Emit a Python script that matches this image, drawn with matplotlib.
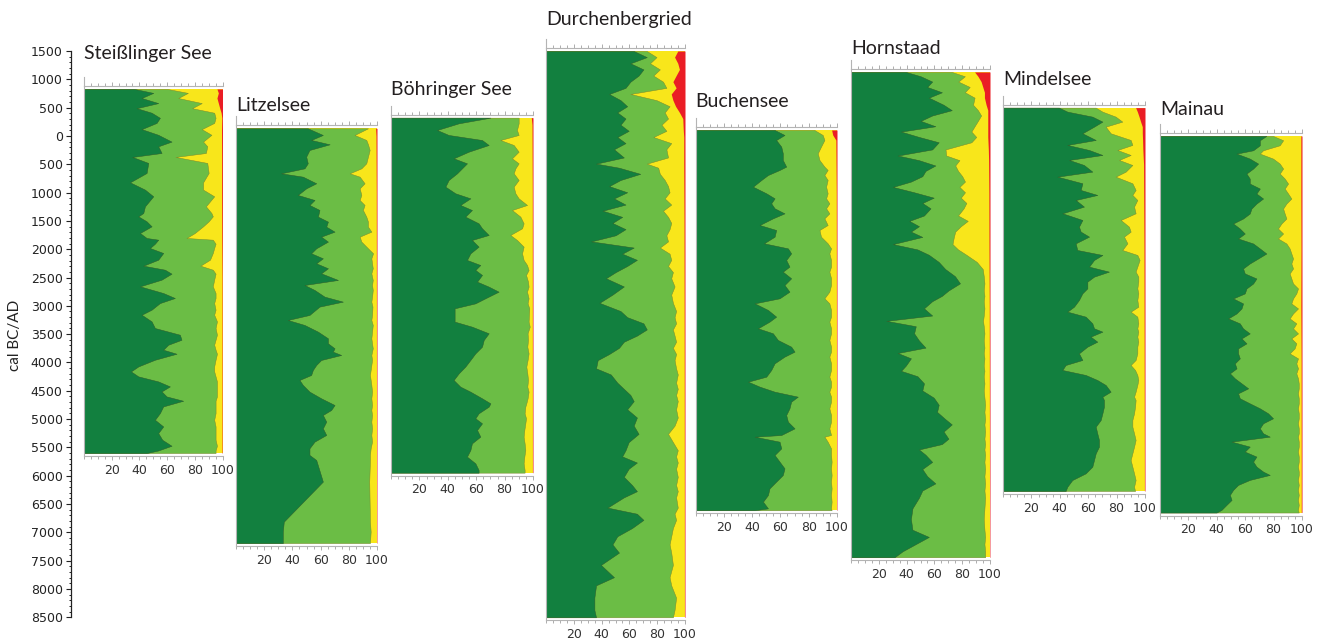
import numpy as np
import matplotlib
matplotlib.use('Agg')
import matplotlib.pyplot as plt

#--------------------------------------------------------------------
# pollen sums per site, cumulative percent
# ages in cal years: AD positive, BC negative
# dg = right edge of dark green, lg = right edge of light green,
# yellow fills up to the red band (red_x .. 100)

steiss_age = [830, 760, 670, 580, 490, 410, 320, 230, 120, 20,
              -100, -183, -301, -371, -477, -654, -819, -948, -1066, -1243,
              -1361, -1420, -1508, -1596, -1714, -1802, -1832, -1903, -1979, -2067,
              -2185, -2291, -2362, -2432, -2538, -2656, -2774, -2862, -2951, -3068,
              -3157, -3275, -3392, -3510, -3599, -3687, -3775, -3846, -3952, -4070,
              -4158, -4246, -4335, -4423, -4511, -4600, -4676, -4776, -4894, -5012,
              -5130, -5247, -5365, -5471, -5554, -5600]
steiss_dg = [36.3, 50, 41.6, 53.6, 38, 48.8, 54.8, 52.4, 41.6, 53.6,
             63.2, 53.6, 56, 34.9, 46.4, 45.2, 33.2, 44, 50, 44,
             42.8, 39.2, 45.2, 48.8, 40.4, 45.2, 53.6, 51.2, 47.6, 57.2,
             53.6, 42.8, 58.4, 63.2, 56, 40.4, 57.2, 65.6, 54.8, 48.8,
             41.6, 48.8, 51.2, 69.2, 70.4, 60.8, 57.2, 66.8, 51.2, 39.2,
             33.9, 39.2, 53.6, 62, 56, 59.6, 71.6, 57.2, 54.8, 51.2,
             57.2, 53.6, 56.5, 63.2, 53.6, 45.2]
steiss_lg = [60, 75, 68, 85, 78, 94, 95, 94, 85, 92,
             86, 89, 88, 66, 89, 90, 86, 86, 94, 88,
             92, 93, 90, 86, 80, 74, 93, 95, 94, 93,
             91, 84, 93, 95, 94, 93, 95, 95, 94, 95,
             94, 96, 95, 96, 95, 94, 95, 96, 95, 94,
             94, 95, 96, 96, 96, 96, 95, 95, 95, 94,
             95, 95, 95, 96, 95, 95]
steiss_red_age = [830, 760, 670, 580, 490, 410, 320, 100, -400, -1000, -1800, -2500, -5600]
steiss_red_x = [96, 97, 96, 97, 98, 99, 99.5, 99.3, 99.4, 99.4, 99.5, 99.7, 99.7]

litzel_age = [135, 17, -71, -148, -248, -365, -483, -572, -660, -719,
              -836, -925, -1042, -1131, -1219, -1307, -1425, -1513, -1602, -1690,
              -1778, -1866, -1984, -2072, -2161, -2249, -2337, -2426, -2543, -2632,
              -2720, -2838, -2926, -3014, -3161, -3250, -3338, -3456, -3573, -3662,
              -3750, -3809, -3868, -3956, -4044, -4133, -4221, -4309, -4397, -4515,
              -4633, -4751, -4839, -4927, -5045, -5163, -5280, -5398, -5516, -5633,
              -5722, -6104, -6811, -6987, -7190]
litzel_dg = [50.9, 61.6, 53.3, 66.4, 52.1, 49.8, 50.9, 48.6, 32, 47.4,
             56.9, 49.8, 43.8, 55.7, 52.1, 59.2, 58.1, 65.2, 64, 69.9,
             60.4, 65.2, 56.9, 53.3, 61.6, 56.9, 65.2, 60.4, 72.3, 48.6,
             55.7, 62.8, 75.8, 59.2, 52.1, 36.7, 48.6, 58.1, 65.2, 65.2,
             69.9, 68.7, 74.6, 60.4, 56.9, 54.5, 53.3, 45, 47.4, 52.1,
             60.4, 69.9, 67.5, 61.6, 64, 61.6, 64, 55.7, 52.1, 52.1,
             56.9, 61.6, 33.9, 33.2, 33.2]
litzel_lg = [93.6, 84.1, 92.4, 93.6, 94.8, 93.6, 92.4, 88.9, 80.6, 87.7,
             91.2, 87.7, 88.9, 87.7, 91.2, 90, 92.4, 93.6, 93.6, 96,
             87.7, 88.9, 93.6, 97.2, 96, 96.5, 97, 96, 97, 96.5,
             97, 96.5, 96, 96.8, 96.5, 96, 97, 96.5, 96, 96.5,
             97, 96.5, 96, 96.5, 96, 95.5, 95, 95.5, 96, 96.5,
             96, 96.5, 96, 96.5, 96, 96.5, 96, 96.5, 95.5, 95,
             95, 94.5, 95, 95.5, 95]
litzel_red_age = [135, 0, -1000, -3000, -7190]
litzel_red_x = [99, 99.3, 99.5, 99.6, 99.7]

boehr_age = [323, 223, 105, 17, -72, -160, -278, -395, -484, -572,
             -660, -778, -896, -1013, -1102, -1219, -1308, -1425, -1543, -1631,
             -1749, -1837, -1955, -2073, -2190, -2279, -2367, -2455, -2573, -2661,
             -2750, -2867, -2956, -3044, -3279, -3368, -3485, -3603, -3721, -3839,
             -3956, -4074, -4192, -4310, -4427, -4516, -4633, -4722, -4780, -4898,
             -4986, -5075, -5192, -5310, -5428, -5546, -5663, -5781, -5899, -5946]
boehr_dg = [70, 47.7, 32.4, 40.6, 64.1, 68.8, 54.7, 44.1, 53.5, 50,
            46.5, 40.6, 38.3, 45.3, 55.9, 48.8, 57, 52.3, 61.7, 64.1,
            68.8, 57, 61.7, 55.9, 53.5, 62.9, 59.4, 64.1, 60.6, 68.8,
            75.8, 66.4, 59.4, 44.8, 44.8, 57, 68.8, 65.3, 64.1, 59.4,
            55.9, 52.3, 47.7, 44.1, 48.8, 55.9, 64.1, 70, 68.8, 61.7,
            59.4, 64.1, 60.6, 62.9, 57, 55.9, 53.5, 59.4, 61.7, 61.7]
boehr_lg = [89.9, 89.9, 88.7, 89.9, 77, 86.4, 89.9, 85.2, 89.9, 87.6,
            86.4, 89.9, 86.4, 87.6, 89.9, 95.8, 85.2, 91.1, 93.4, 92.3,
            84, 88.7, 93.4, 92.3, 93.4, 95.8, 96.9, 95.1, 96.5, 96.9,
            95.8, 96.9, 96.2, 97.4, 96.9, 97.7, 96.2, 96.5, 96, 96.9,
            96.2, 95.3, 96, 96.5, 96, 96.9, 96.2, 95.3, 94.6, 94.1,
            95.1, 94.6, 93.9, 93.4, 94.1, 94.6, 93.9, 93.4, 94.1, 94.1]
boehr_red_age = [323, 200, -1000, -5946]
boehr_red_x = [98.8, 99.3, 99.5, 99.6]

durch_age = [1500, 1392, 1283, 1175, 1066, 958, 849, 741, 632, 524,
             415, 307, 198, 90, -19, -127, -235, -380, -489, -561,
             -669, -778, -886, -995, -1103, -1212, -1320, -1429, -1537, -1646,
             -1754, -1862, -1971, -2079, -2188, -2296, -2405, -2513, -2658, -2802,
             -2947, -3092, -3200, -3309, -3417, -3526, -3634, -3742, -3851, -3959,
             -4104, -4212, -4357, -4466, -4574, -4683, -4827, -4972, -5116, -5261,
             -5406, -5550, -5659, -5767, -5876, -6020, -6165, -6273, -6382, -6563,
             -6671, -6780, -6924, -7069, -7213, -7358, -7575, -7792, -7936, -8153,
             -8370, -8500]
durch_dg = [63.1, 72.5, 60.7, 70.1, 66.6, 60.7, 57.2, 45.4, 53.6, 58.4,
            51.3, 57.2, 53.6, 59.5, 51.3, 57.2, 48.9, 56, 36, 52.5,
            67.8, 53.6, 45.4, 58.4, 48.9, 57.2, 40.7, 54.8, 47.8, 57.2,
            50.1, 32.5, 63.1, 54.8, 65.4, 58.4, 50.1, 43.1, 56, 47.8,
            38.4, 53.6, 58.4, 70.1, 72.5, 65.4, 56, 52.5, 45.4, 37.2,
            36, 46.6, 51.3, 56, 60.7, 63.1, 58.4, 65.4, 63.1, 66.6,
            59.5, 57.2, 54.8, 65.4, 59.5, 56, 61.9, 65.4, 56, 44.2,
            65.4, 70.1, 61.9, 51.3, 47.8, 52.5, 39.5, 48.9, 36, 34.8,
            34.8, 36]
durch_lg = [72.5, 79.5, 74.8, 81.9, 77.2, 84.2, 86.6, 60.7, 79.5, 88.9,
            85.4, 87.8, 83.1, 86.6, 77.2, 90.1, 86.6, 87.8, 72.5, 80.7,
            81.9, 85.4, 87.8, 88.9, 85.4, 90.1, 84.2, 87.8, 90.1, 88.9,
            86.6, 87.8, 81.9, 88.9, 90.1, 87.8, 91.3, 90.1, 92.5, 90.1,
            91.3, 93.6, 92.5, 93.6, 91.3, 92.5, 93.6, 91.3, 93.6, 92.5,
            93.6, 94.8, 93.6, 94.8, 93.6, 94.8, 93.6, 94.8, 92.5, 87.8,
            91.3, 94.8, 93.6, 94.8, 93.6, 94.8, 93.6, 94.8, 93.6, 94.8,
            92.5, 93.6, 91.3, 90.1, 88.9, 90.1, 91.3, 88.9, 90.1, 93.6,
            92.5, 91.3]
durch_red_age = [1500, 1392, 1283, 1175, 1066, 958, 849, 741, 632, 524,
                 415, 307, 198, 90, -19, -489, -1500, -3000, -5000, -8500]
durch_red_x = [94.8, 92.5, 94.8, 96, 93.6, 91.3, 93.6, 90.1, 91.3, 93.2,
               96, 98.4, 98.6, 98.8, 99.1, 99.1, 99.3, 99.4, 99.5, 99.6]

buchen_age = [105, 17, -72, -189, -307, -425, -542, -601, -690, -778,
              -896, -1013, -1102, -1190, -1278, -1367, -1455, -1573, -1661, -1779,
              -1896, -1985, -2073, -2191, -2308, -2397, -2514, -2632, -2750, -2867,
              -2956, -3073, -3191, -3279, -3397, -3485, -3603, -3721, -3809, -3897,
              -4015, -4133, -4251, -4339, -4427, -4516, -4604, -4692, -4810, -4928,
              -5046, -5164, -5281, -5311, -5399, -5517, -5634, -5752, -5870, -5988,
              -6105, -6223, -6341, -6458, -6576, -6610]
buchen_dg = [55.9, 62.9, 57, 60.6, 61.7, 61.7, 64.1, 59.4, 51.2, 46.5,
             40.6, 50, 55.9, 53.5, 55.9, 62.9, 54.7, 45.3, 57, 55.9,
             48.4, 65.3, 67.6, 64.1, 66.4, 61.7, 67.6, 62.9, 66.4, 59.4,
             41.8, 51.2, 57, 52.3, 44.1, 54.7, 58.2, 67.6, 70, 62.9,
             55.9, 53.5, 50, 37.1, 45.3, 55.9, 72.3, 67.6, 66.4, 64.1,
             65.3, 70, 60.6, 41.8, 59.4, 60.6, 55.9, 59.4, 62.9, 61.7,
             57, 52.3, 51.2, 47.7, 51.2, 41.8]
buchen_lg = [84, 89.9, 91.1, 88.7, 86.4, 87.6, 91.1, 93.4, 91.1, 93.4,
             92.3, 93.4, 92.3, 94.6, 92.3, 94.6, 91.1, 93.4, 87.6, 88.7,
             93.4, 95.8, 94.6, 95.8, 95.8, 94.6, 95.8, 95.8, 94.6, 91.1,
             94.6, 95.8, 95.8, 94.6, 95.8, 95.8, 94.6, 95.8, 95.8, 94.6,
             95.8, 95.8, 94.6, 95.8, 95.8, 94.6, 95.8, 95.8, 94.6, 95.8,
             95.8, 94.6, 95.8, 91.1, 93.4, 95.8, 95.8, 96.2, 95.8, 96.2,
             95.8, 96.2, 95.8, 96.2, 95.8, 96.2]
buchen_red_age = [105, 17, -72, -1000, -3000, -6610]
buchen_red_x = [96.2, 97, 99.2, 99.5, 99.6, 99.7]

horn_age = [1130, 1054, 960, 865, 771, 676, 550, 455, 361, 266,
            171, 77, -18, -112, -238, -346, -428, -522, -617, -711,
            -806, -900, -995, -1090, -1184, -1279, -1405, -1500, -1594, -1689,
            -1783, -1910, -2004, -2099, -2225, -2351, -2477, -2603, -2729, -2824,
            -2918, -3044, -3171, -3265, -3360, -3486, -3612, -3738, -3833, -3927,
            -4054, -4148, -4243, -4369, -4495, -4621, -4747, -4873, -5000, -5094,
            -5220, -5346, -5441, -5536, -5630, -5756, -5882, -6008, -6135, -6261,
            -6387, -6576, -6765, -6954, -7081, -7207, -7333, -7440]
horn_dg = [39.5, 50.1, 58.4, 54.8, 65.4, 56, 66.6, 72.5, 58.4, 50.1,
           60.7, 36, 48.9, 63.1, 58.4, 33.6, 48.9, 60.7, 53.6, 51.3,
           43.1, 30.1, 45.4, 59.5, 51.3, 57.2, 52.5, 41.9, 48.9, 43.1,
           51.3, 30.1, 47.8, 56, 63.1, 67.8, 74.8, 78.4, 70.1, 65.4,
           58.4, 52.5, 58.4, 25.4, 46.6, 45.4, 48.9, 53.6, 33.6, 43.1,
           39.5, 36, 47.8, 52.5, 51.3, 59.5, 63.1, 61.9, 67.8, 72.5,
           66.6, 70.1, 65.4, 48.9, 53.6, 58.4, 51.3, 54.8, 60.7, 51.3,
           48.9, 44.2, 43.1, 44.2, 56, 46.6, 37.2, 31.3]
horn_lg = [72.5, 81.9, 77.2, 85.4, 81.9, 88.9, 87.8, 91.3, 93.6, 91.3,
           88.9, 86.6, 90.1, 86.6, 68, 68.5, 78, 75, 77, 80,
           82, 78, 82, 79, 83, 81, 77, 84, 79, 75,
           74, 73, 77, 83, 90.5, 94.8, 95.5, 96, 95.5, 96,
           95.5, 96, 95.5, 95, 95.5, 96, 95.5, 96, 95.5, 96,
           95.5, 96, 95.5, 96, 95.5, 96, 96.5, 96, 96.5, 96,
           96.5, 96, 96.5, 96, 96.5, 96, 96.5, 96, 96.5, 96,
           96.5, 96, 95.5, 96, 96.5, 96, 96.5, 96.5]
horn_red_age = [1130, 1054, 960, 865, 771, 676, 550, 455, 361, 171,
                -18, -238, -428, -1000, -2000, -3000, -7440]
horn_red_x = [88.9, 91.3, 93.6, 94.8, 96, 96, 97.2, 98.4, 98.4, 98.4,
              98.4, 98.8, 99, 99.2, 99.3, 99.5, 99.7]

mindel_age = [500, 429, 341, 253, 164, 47, -71, -159, -248, -336,
              -424, -513, -630, -719, -836, -954, -1042, -1131, -1248, -1366,
              -1484, -1602, -1690, -1778, -1896, -2014, -2102, -2190, -2308, -2396,
              -2485, -2573, -2691, -2779, -2897, -3015, -3103, -3191, -3309, -3397,
              -3456, -3544, -3633, -3721, -3839, -3956, -4045, -4133, -4221, -4310,
              -4398, -4516, -4604, -4663, -4781, -4898, -5016, -5134, -5252, -5369,
              -5487, -5605, -5723, -5840, -5958, -6076, -6194, -6270]
mindel_dg = [39.4, 45.3, 62.9, 70, 64.1, 55.9, 65.3, 45.3, 60.6, 70,
             46.5, 57, 62.9, 38.3, 55.9, 54.7, 66.4, 51.2, 57, 41.8,
             55.9, 53.5, 54.7, 60.6, 51.2, 52.3, 70, 64.1, 60.6, 74.6,
             64.1, 59.4, 59.4, 55.9, 53.5, 50, 45.3, 58.2, 62.9, 64.1,
             70, 61.7, 66.4, 59.4, 53.5, 55.9, 44.1, 41.8, 58.2, 66.4,
             72.3, 75.8, 70, 71.1, 71.1, 70, 68.8, 65.3, 66.4, 67.6,
             67.6, 65.3, 64.1, 62.9, 58.2, 48.8, 45.3, 44.1]
mindel_lg = [65.3, 70, 79.3, 84, 72.3, 75.8, 89.9, 91.1, 80.5, 89.9,
             81.7, 91.1, 86.4, 79.3, 91.1, 93.4, 91.1, 94.6, 92.3, 93.4,
             82.9, 88.7, 89.9, 85.2, 87.6, 84, 94.6, 96.2, 94.6, 93.4,
             95.3, 95.3, 94.6, 95.3, 94.6, 95.3, 89.9, 94.6, 95.3, 94.6,
             95.3, 94.6, 95.3, 94.6, 94.6, 93.4, 89.9, 93, 94.6, 95.3,
             94.6, 93.4, 92.3, 93.4, 93, 92.3, 91.1, 91.1, 92.3, 93.4,
             92.3, 91.1, 89.9, 91.1, 92.3, 93.4, 92.3, 93]
mindel_red_age = [500, 429, 341, 253, 164, 47, -71, -248, -500, -2000, -6270]
mindel_red_x = [93.4, 94.6, 95.8, 96.9, 98.1, 98.1, 98.3, 98.5, 99, 99.3, 99.6]

mainau_age = [0, -76, -165, -253, -312, -400, -488, -576, -664, -753,
              -841, -929, -1017, -1105, -1194, -1282, -1370, -1458, -1546, -1635,
              -1723, -1811, -1899, -1987, -2076, -2164, -2252, -2340, -2428, -2517,
              -2605, -2693, -2781, -2869, -2958, -3046, -3134, -3222, -3310, -3399,
              -3487, -3575, -3663, -3751, -3840, -3928, -4016, -4104, -4192, -4281,
              -4369, -4457, -4545, -4633, -4722, -4810, -4898, -4986, -5074, -5163,
              -5251, -5310, -5398, -5486, -5574, -5662, -5751, -5839, -5927, -5986,
              -6074, -6162, -6250, -6339, -6427, -6515, -6603, -6650]
mainau_dg = [74.9, 70.3, 70.3, 65.6, 53.9, 63.2, 69.1, 65.6, 60.9, 63.2,
             63.2, 70.3, 67.9, 72.6, 67.9, 64.4, 63.2, 58.5, 51.5, 56.2,
             59.7, 55, 65.6, 70.3, 74.9, 69.1, 63.2, 58.5, 59.7, 67.9,
             65.6, 60.9, 59.7, 51.5, 58.5, 57.4, 53.9, 48, 56.2, 58.5,
             63.2, 57.4, 60.9, 55, 55, 56.2, 52.7, 53.9, 49.2, 52.7,
             57.4, 62.1, 55, 56.2, 63.2, 70.3, 76.1, 79.6, 72.6, 70.3,
             72.6, 77.3, 50.4, 63.2, 59.7, 67.9, 65.6, 67.9, 72.6, 77.3,
             63.2, 55, 51.5, 49.2, 50.4, 46.8, 43.3, 39.8]
mainau_lg = [79.6, 86.7, 84.3, 72.6, 70.3, 79.6, 84.3, 86.7, 84.3, 87.8,
             90.2, 87.8, 90.2, 92.5, 89, 86.7, 87.8, 89, 85.5, 83.1,
             86.7, 83.1, 89, 91.3, 92.5, 93.7, 92.5, 93.7, 91.3, 92.5,
             93.7, 97.2, 96, 93.7, 92.5, 97.2, 93.7, 91.3, 96, 93.7,
             97.2, 92.5, 96, 94.8, 91.3, 97.2, 96, 97.2, 96, 97.2,
             97.7, 97.7, 97.2, 97.7, 97.7, 97.2, 97.7, 97.7, 97.2, 97.7,
             97.7, 97.2, 97.7, 97.7, 97.2, 97.7, 97.7, 97.2, 97.7, 97.7,
             97.2, 97.7, 97.2, 97.7, 97.2, 97.7, 97.2, 97.7]
mainau_red_age = [0, -1000, -2000, -3000, -4000, -6650]
mainau_red_x = [99.2, 99.2, 99.3, 99.2, 99.4, 99.5]

site_names = ['Steißlinger See', 'Litzelsee', 'Böhringer See', 'Durchenbergried',
              'Buchensee', 'Hornstaad', 'Mindelsee', 'Mainau']

#--------------------------------------------------------------------
# layout (pixels of a 1321 x 644 canvas)
W, H = 1321, 644
AGE_TOP_PX, PX_PER_YR = 51, 0.05663   # 1500 AD sits at y = 51 px
PAD = 55                              # years of white space above/below a core

def ypx(age):
    return AGE_TOP_PX + (1500 - age) * PX_PER_YR

panel_x = [(84, 222.5), (236, 377), (391, 533), (546, 685),
           (695.5, 837), (851, 990), (1003, 1145), (1160, 1302)]
title_y = [59, 111, 95, 25, 107, 54, 85, 115]

DARK = '#12803f'
LIGHT = '#6bbd45'
YELLOW = '#f8e61b'
RED = '#ea1d25'

plt.rcParams['font.family'] = ['DejaVu Sans']

fig = plt.figure(figsize=(W / 100, H / 100), dpi=100)

#--------------------------------------------------------------------
# shared age axis
ax0 = fig.add_axes([71 / W, 1 - ypx(-8500) / H, 0.5 / W, (ypx(-8500) - ypx(1500)) / H])
ax0.set_ylim(-8500, 1500)
ax0.set_xticks([])
for s in ['top', 'right', 'bottom']:
    ax0.spines[s].set_visible(False)
ax0.spines['left'].set_color('#222222')
ax0.spines['left'].set_linewidth(0.9)
ticks = list(range(1500, -8501, -500))
ax0.set_yticks(ticks)
ax0.set_yticklabels([str(abs(t)) for t in ticks], fontsize=9, color='#222222')
ax0.set_yticks(list(range(1500, -8501, -100)), minor=True)
ax0.tick_params(axis='y', which='major', length=3.5, width=0.8, pad=2.5, color='#222222')
ax0.tick_params(axis='y', which='minor', length=1.8, width=0.7, color='#222222')
fig.text(15 / W, 1 - 335 / H, 'cal BC/AD', rotation=90, ha='center', va='center',
         fontsize=11, family='Lato', color='#222222')

#--------------------------------------------------------------------
# one core per panel
sites = [
    (steiss_age, steiss_dg, steiss_lg, steiss_red_age, steiss_red_x),
    (litzel_age, litzel_dg, litzel_lg, litzel_red_age, litzel_red_x),
    (boehr_age, boehr_dg, boehr_lg, boehr_red_age, boehr_red_x),
    (durch_age, durch_dg, durch_lg, durch_red_age, durch_red_x),
    (buchen_age, buchen_dg, buchen_lg, buchen_red_age, buchen_red_x),
    (horn_age, horn_dg, horn_lg, horn_red_age, horn_red_x),
    (mindel_age, mindel_dg, mindel_lg, mindel_red_age, mindel_red_x),
    (mainau_age, mainau_dg, mainau_lg, mainau_red_age, mainau_red_x),
]

for i, (age, dg, lg, rage, rx) in enumerate(sites):
    top, bot = max(age) + PAD, min(age) - PAD
    x0, x1 = panel_x[i]
    ax = fig.add_axes([x0 / W, 1 - ypx(bot) / H, (x1 - x0) / W, (ypx(bot) - ypx(top)) / H])
    ax.set_xlim(0, 100)
    ax.set_ylim(bot, top)

    ax.fill_betweenx(age, 0, 100, color=YELLOW, lw=0)
    ax.fill_betweenx(age, 0, lg, facecolor=LIGHT, edgecolor='#7c8a2c', lw=0.35)
    ax.fill_betweenx(age, 0, dg, facecolor=DARK, edgecolor='#2f5b2a', lw=0.35)
    ax.fill_betweenx(rage, rx, 100, color=RED, lw=0)

    for s in ['top', 'bottom', 'left']:
        ax.spines[s].set_color('#b4b4b4')
        ax.spines[s].set_linewidth(0.8)
    ax.spines['right'].set_visible(False)
    ax.plot([0, 0], [1, 1 + 9 / (ypx(bot) - ypx(top))], transform=ax.transAxes,
            clip_on=False, color='#b4b4b4', lw=0.8)

    ax.set_yticks([])
    ax.set_xticks([20, 40, 60, 80, 100])
    ax.set_xticks(list(range(0, 101, 5)), minor=True)
    ax.tick_params(axis='x', which='both', top=True, bottom=True, labeltop=False,
                   color='#a0a0a0', width=0.6)
    ax.tick_params(axis='x', which='major', length=3, pad=2.5, labelsize=9,
                   labelcolor='#333333')
    ax.tick_params(axis='x', which='minor', length=2)

    fig.text(x0 / W, 1 - title_y[i] / H, site_names[i], ha='left', va='baseline',
             fontsize=14, family='Lato', color='#231f20')

fig.savefig('out.png', dpi=100)
